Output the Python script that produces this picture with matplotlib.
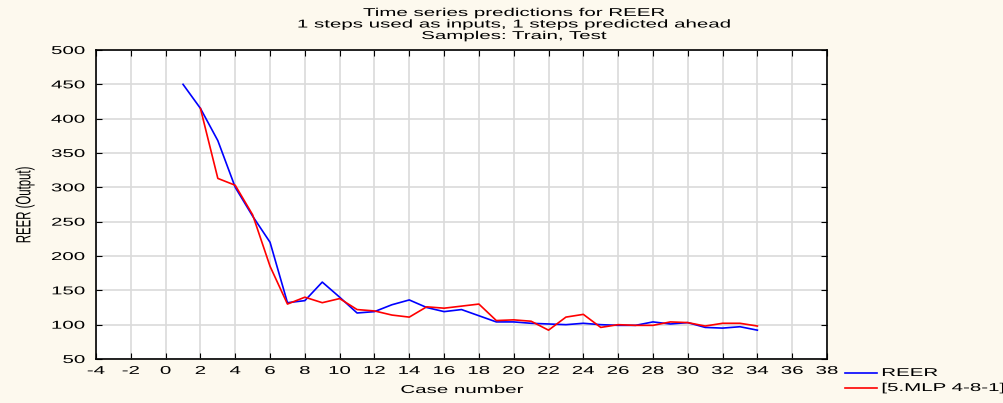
import matplotlib
matplotlib.use("Agg")
import matplotlib.pyplot as plt
from matplotlib.lines import Line2D
from matplotlib.patheffects import AbstractPathEffect
from matplotlib.transforms import Affine2D

plt.rcParams['font.family'] = ['Liberation Sans', 'DejaVu Sans']

case_actual = list(range(1, 35))
reer = [450, 415, 368, 300, 258, 220, 132, 135, 162, 140,
        117, 119, 129, 136, 125, 119, 122, 113, 104, 104,
        102, 101, 100, 102, 100, 99, 99, 104, 101, 103,
        96, 95, 97, 92]
case_pred = list(range(2, 35))
mlp = [415, 313, 303, 260, 185, 130, 140, 132, 138,
       122, 120, 114, 111, 126, 124, 127, 130, 106, 107,
       105, 92, 111, 115, 96, 100, 99, 99, 104, 103,
       98, 102, 102, 98]
xticks = list(range(-4, 39, 2))
yticks = list(range(50, 501, 50))
title_lines = ["Time series predictions for REER",
               "1 steps used as inputs, 1 steps predicted ahead",
               "Samples: Train, Test"]
legend_labels = ["REER", "[5.MLP 4-8-1]"]


class HStretch(AbstractPathEffect):
    """Draw text stretched horizontally (display x) about an anchor."""
    def __init__(self, sx=1.8, anchor='center'):
        super().__init__()
        self.sx = sx
        self.anchor = anchor

    def draw_path(self, renderer, gc, tpath, affine, rgbFace=None):
        ext = tpath.get_extents(affine)
        if self.anchor == 'left':
            a = ext.x0
        elif self.anchor == 'right':
            a = ext.x1
        else:
            a = 0.5 * (ext.x0 + ext.x1)
        new = affine + Affine2D().translate(-a, 0).scale(self.sx, 1).translate(a, 0)
        renderer.draw_path(gc, tpath, new, rgbFace)


SX = 1.8
FS = 8.2
W, H = 1004, 403
bg = '#FDF9EE'
fig = plt.figure(figsize=(W / 100, H / 100), dpi=100, facecolor=bg)
ax = fig.add_axes([96 / W, 1 - 359 / H, (827 - 96) / W, (359 - 50) / H])
ax.set_facecolor('white')

ax.plot(case_actual, reer, color='#0000FF', lw=1.2)
ax.plot(case_pred, mlp, color='#FF0000', lw=1.2)

ax.set_xlim(-4, 38)
ax.set_ylim(50, 500)
ax.set_xticks(xticks)
ax.set_yticks(yticks)
ax.set_xticklabels([str(t) for t in xticks])
ax.set_yticklabels([str(t) for t in yticks])
ax.grid(True, color='#DADADA', lw=1.2)
ax.set_axisbelow(True)
ax.tick_params(direction='in', top=True, right=True, length=4, labelsize=FS)
ax.tick_params(axis='x', pad=5)
ax.tick_params(axis='y', pad=8)
for s in ax.spines.values():
    s.set_color('black')
    s.set_linewidth(1.2)

for lab in ax.get_xticklabels():
    lab.set_path_effects([HStretch(SX, 'center')])
for lab in ax.get_yticklabels():
    lab.set_path_effects([HStretch(SX, 'right')])

t = fig.text(25 / W, 1 - 205 / H, "REER (Output)", rotation=90, ha='center', va='center',
             fontsize=FS)
t.set_path_effects([HStretch(SX, 'center')])
t = fig.text(462 / W, 1 - 393 / H, "Case number", ha='center', va='baseline', fontsize=FS)
t.set_path_effects([HStretch(SX, 'center')])

for line, yb in zip(title_lines, [16, 27.5, 39]):
    t = fig.text(514 / W, 1 - yb / H, line, ha='center', va='baseline', fontsize=FS)
    t.set_path_effects([HStretch(SX, 'center')])

# legend outside at bottom right
for i, (lab, col) in enumerate(zip(legend_labels, ['#0000FF', '#FF0000'])):
    y = 1 - (373 + i * 15) / H
    fig.add_artist(Line2D([845 / W, 877 / W], [y, y], color=col, lw=1.2,
                          transform=fig.transFigure))
    t = fig.text(882 / W, y, lab, ha='left', va='center', fontsize=FS)
    t.set_path_effects([HStretch(SX, 'left')])

fig.savefig("out.png", dpi=100, facecolor=bg)
